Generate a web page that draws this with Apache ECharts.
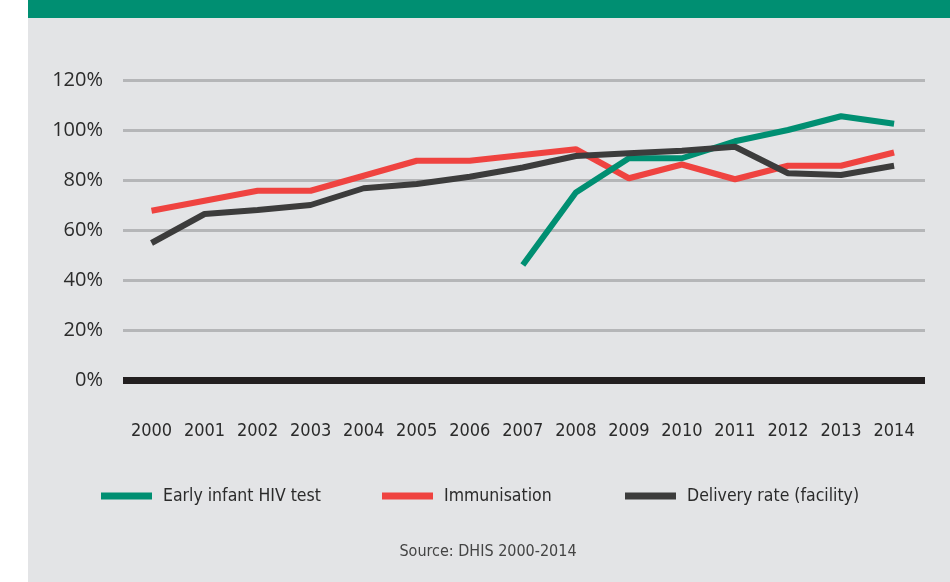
<!DOCTYPE html>
<html>
<head>
<meta charset="utf-8">
<script src="https://cdn.jsdelivr.net/npm/echarts@6/dist/echarts.min.js"></script>
<style>
html,body{margin:0;padding:0;background:#ffffff;}
#chart{width:950px;height:582px;}
</style>
</head>
<body>
<div id="chart"></div>
<script>
var years = ['2000','2001','2002','2003','2004','2005','2006','2007','2008','2009','2010','2011','2012','2013','2014'];
var earlyInfantHIV = [null,null,null,null,null,null,null,46,75,88.7,88.7,95.5,100,105.5,102.5];
var immunisation = [67.7,71.7,75.7,75.7,81.7,87.7,87.7,90,92.3,80.7,86.2,80.3,85.7,85.7,91];
var deliveryRate = [54.8,66.4,68,70,76.7,78.4,81.3,85,89.6,90.7,91.7,93.3,82.7,82,85.7];
var yTicks = [0,20,40,60,80,100,120];
var seriesNames = ['Early infant HIV test','Immunisation','Delivery rate (facility)'];
var sourceText = 'Source: DHIS 2000-2014';

var colors = ['#008f72','#ef4340','#3c3c3c'];
var condensed = 'DejaVu Sans Condensed, Liberation Sans Narrow, sans-serif';
var chart = echarts.init(document.getElementById('chart'), null, {renderer:'canvas'});
var legendText = {color:'#2b2b2b', fontSize:17.5, fontFamily:condensed, padding:[0,0,0,6]};
function mkLegend(name, left){
  return {data:[{name:name, icon:'rect'}], left:left, top:487, padding:0, itemWidth:51, itemHeight:7, textStyle:legendText, selectedMode:false};
}
chart.setOption({
  animation:false,
  backgroundColor:'#ffffff',
  graphic:[
    {type:'rect', shape:{x:28,y:0,width:922,height:582}, style:{fill:'#e3e4e6'}, z:-10},
    {type:'rect', shape:{x:28,y:0,width:922,height:18}, style:{fill:'#008f72'}, z:-9},
    {type:'text', x:488, y:552, style:{text:sourceText, fill:'#444444', fontSize:16, fontFamily:condensed, align:'center', verticalAlign:'middle'}}
  ],
  legend:[mkLegend(seriesNames[0],101), mkLegend(seriesNames[1],382), mkLegend(seriesNames[2],625)],
  grid:[
    {left:123, right:25, top:80, bottom:202},
    {left:125, right:29.4, top:80, bottom:202}
  ],
  xAxis:[
    {type:'category', gridIndex:0, data:years, axisLine:{show:true, onZero:false, lineStyle:{color:'#231f20', width:7, cap:'butt'}}, axisTick:{show:false}, axisLabel:{show:false}, splitLine:{show:false}},
    {type:'category', gridIndex:1, data:years, boundaryGap:true, axisLine:{show:false}, axisTick:{show:false},
     axisLabel:{interval:0, color:'#2b2b2b', fontSize:18, margin:42, fontFamily:condensed}}
  ],
  yAxis:[
    {type:'value', gridIndex:0, min:yTicks[0], max:yTicks[yTicks.length-1], interval:20,
     axisLine:{show:false}, axisTick:{show:false},
     axisLabel:{color:'#2b2b2b', fontSize:20, margin:20, fontFamily:'Open Sans, sans-serif', formatter:function(v){return v+'%';}},
     splitLine:{show:true, lineStyle:{color:'#b5b6b8', width:3}}},
    {type:'value', gridIndex:1, min:yTicks[0], max:yTicks[yTicks.length-1], interval:20, show:false}
  ],
  series:[
    {name:seriesNames[0], type:'line', xAxisIndex:1, yAxisIndex:1, data:earlyInfantHIV, showSymbol:false, symbol:'none', color:colors[0], lineStyle:{width:6, color:colors[0]}, z:3},
    {name:seriesNames[1], type:'line', xAxisIndex:1, yAxisIndex:1, data:immunisation, showSymbol:false, symbol:'none', color:colors[1], lineStyle:{width:6, color:colors[1]}, z:2},
    {name:seriesNames[2], type:'line', xAxisIndex:1, yAxisIndex:1, data:deliveryRate, showSymbol:false, symbol:'none', color:colors[2], lineStyle:{width:6, color:colors[2]}, z:4}
  ]
});
</script>
</body>
</html>
